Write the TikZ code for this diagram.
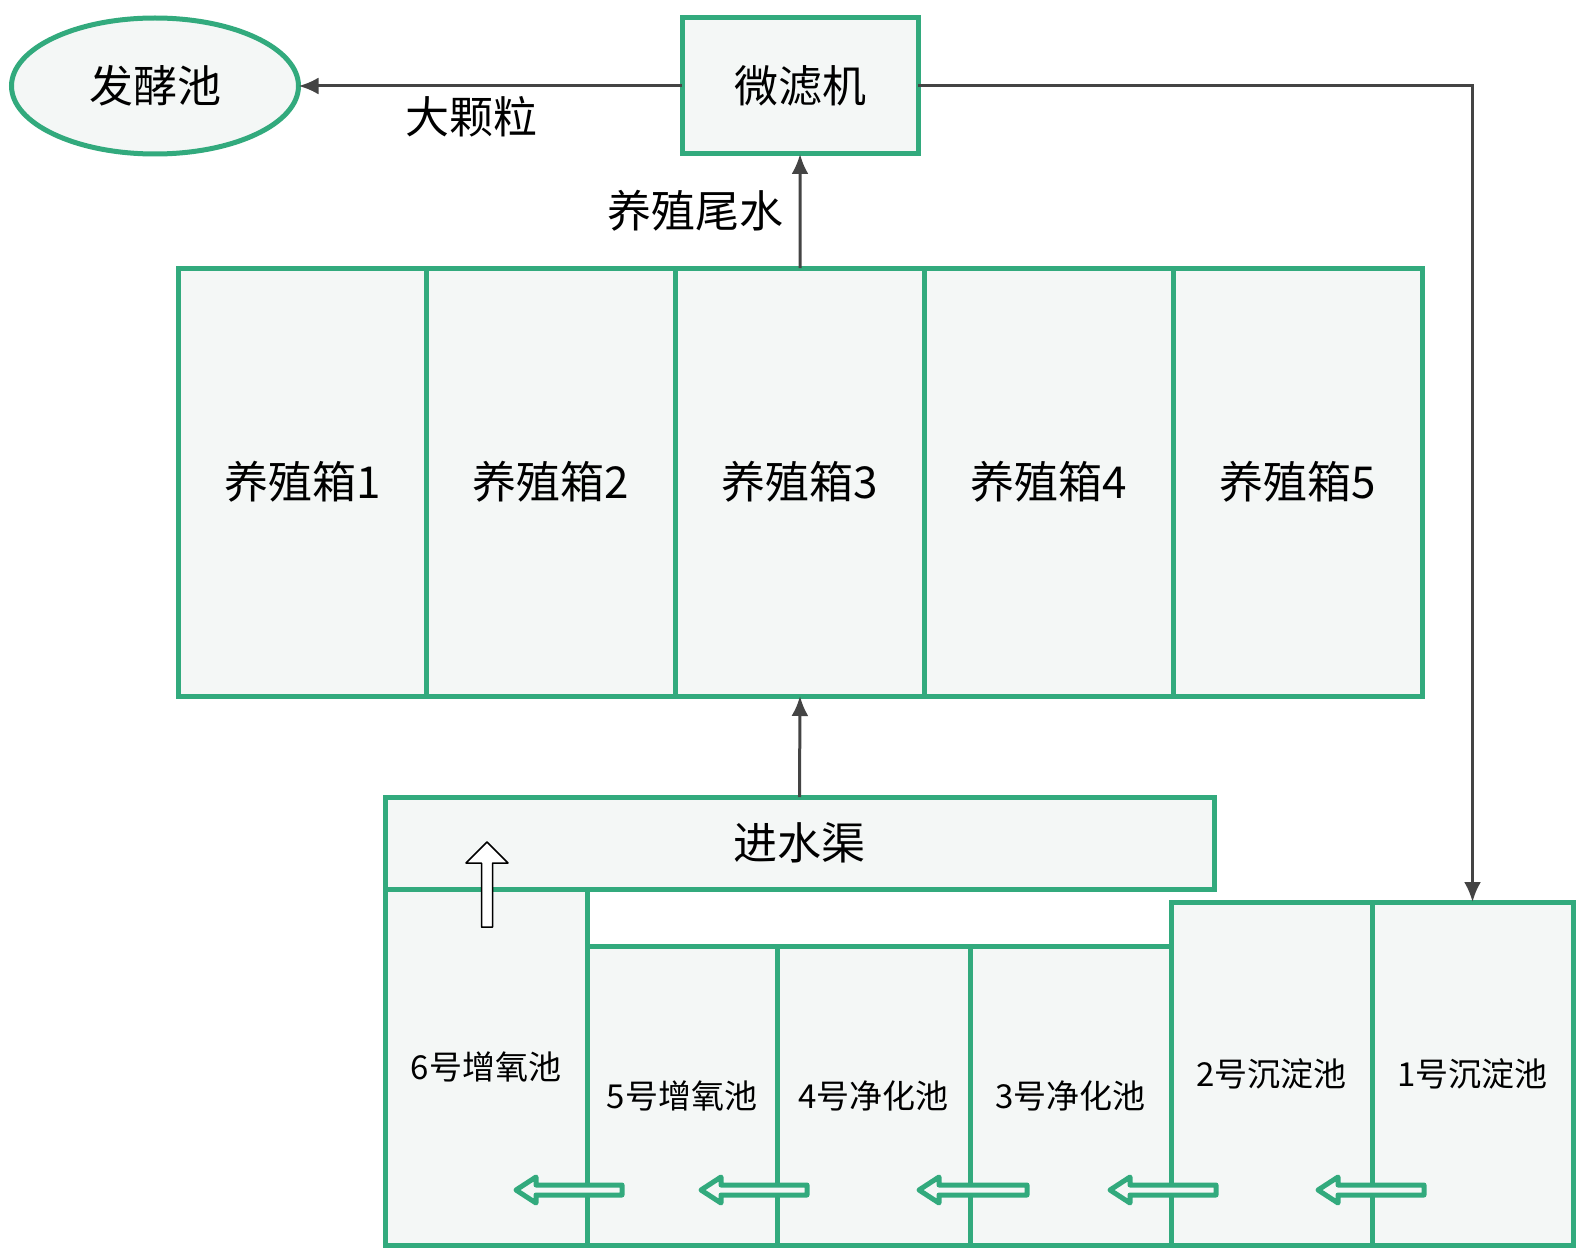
\documentclass[tikz,border=0pt]{standalone}
\usepackage{fontspec}
\setmainfont{Noto Sans CJK SC}
\usetikzlibrary{arrows.meta, positioning, shapes.geometric}

\begin{document}
\begin{tikzpicture}[
    x=1pt, y=-1pt,
    font=\fontsize{44}{50}\selectfont,
    gbox/.style n args={2}{
        rectangle, draw=green1, fill=green1bg, line width=5pt,
        minimum width=#1, minimum height=#2,
        outer sep=0pt, inner sep=0pt, align=center
    },
    pool/.style n args={2}{
        gbox={#1}{#2}, font=\fontsize{33}{38}\selectfont
    },
    flowarrow/.style={
        -{Latex[length=20pt,width=17pt]}, line width=3pt, draw=arrowgray
    },
    hollow/.style={
        draw=green1, fill=green1bg, line width=5pt, line join=round
    },
    inlet/.style={
        draw=black, fill=white, line width=1.5pt, line join=round
    },
]

\definecolor{green1}{RGB}{50,170,125}
\definecolor{green1bg}{RGB}{244,247,246}
\definecolor{arrowgray}{RGB}{68,68,68}

\useasboundingbox[fill=white] (0,0) rectangle (1587,1260);

% ============================================================
% Top: filter and fermentation tank
% ============================================================

\node[gbox={236pt}{136pt}] (filter) at (800,86) {微滤机};
\node[ellipse, draw=green1, fill=green1bg, line width=5pt,
      minimum width=287pt, minimum height=136pt, outer sep=0pt] (ferm) at (155,86) {发酵池};

\draw[flowarrow]
    (filter.west) -- node[pos=0.55, below=6pt] {大颗粒} (ferm.east);

% ============================================================
% Breeding tanks
% ============================================================

\node[gbox={248.8pt}{428pt}] (t1) at (302.4,482) {养殖箱1};
\foreach \i [count=\j from 1] in {2,...,5}
    \node[gbox={248.8pt}{428pt}, right=0pt of t\j] (t\i) {养殖箱\i};

\draw[flowarrow]
    (t3.north) -- node[midway, left=12pt] {养殖尾水} (filter.south);

% ============================================================
% Inlet canal and pools
% ============================================================

\node[gbox={829pt}{92pt}] (canal) at (799.5,843) {进水渠};

\node[pool={202pt}{356pt}, anchor=north west] (p6) at (canal.south west) {6号增氧池};
\node[pool={190pt}{299pt}, anchor=south west] (p5) at (p6.south east) {5号增氧池};
\node[pool={193pt}{299pt}, right=0pt of p5] (p4) {4号净化池};
\node[pool={201pt}{299pt}, right=0pt of p4] (p3) {3号净化池};
\node[pool={201pt}{343pt}, anchor=south west] (p2) at (p3.south east) {2号沉淀池};
\node[pool={201pt}{343pt}, right=0pt of p2] (p1) {1号沉淀池};

\draw[flowarrow] (canal.north) -- (t3.south);
\draw[flowarrow] (filter.east) -| (p1.north);

% flow between pools
\foreach \tip/\tail in {516/622, 701/807, 919/1027, 1110/1216, 1318/1424}
    \draw[hollow] (\tip,1190) -- ++(20,-13) -- ++(0,8) -- (\tail,1185)
        -- ++(0,10) -- (\tip+20,1195) -- ++(0,8) -- cycle;

% water back into the canal
\draw[inlet] (487,842) -- (508,863) -- (492.5,863) -- (492.5,927)
    -- (481.5,927) -- (481.5,863) -- (466,863) -- cycle;

\end{tikzpicture}
\end{document}
